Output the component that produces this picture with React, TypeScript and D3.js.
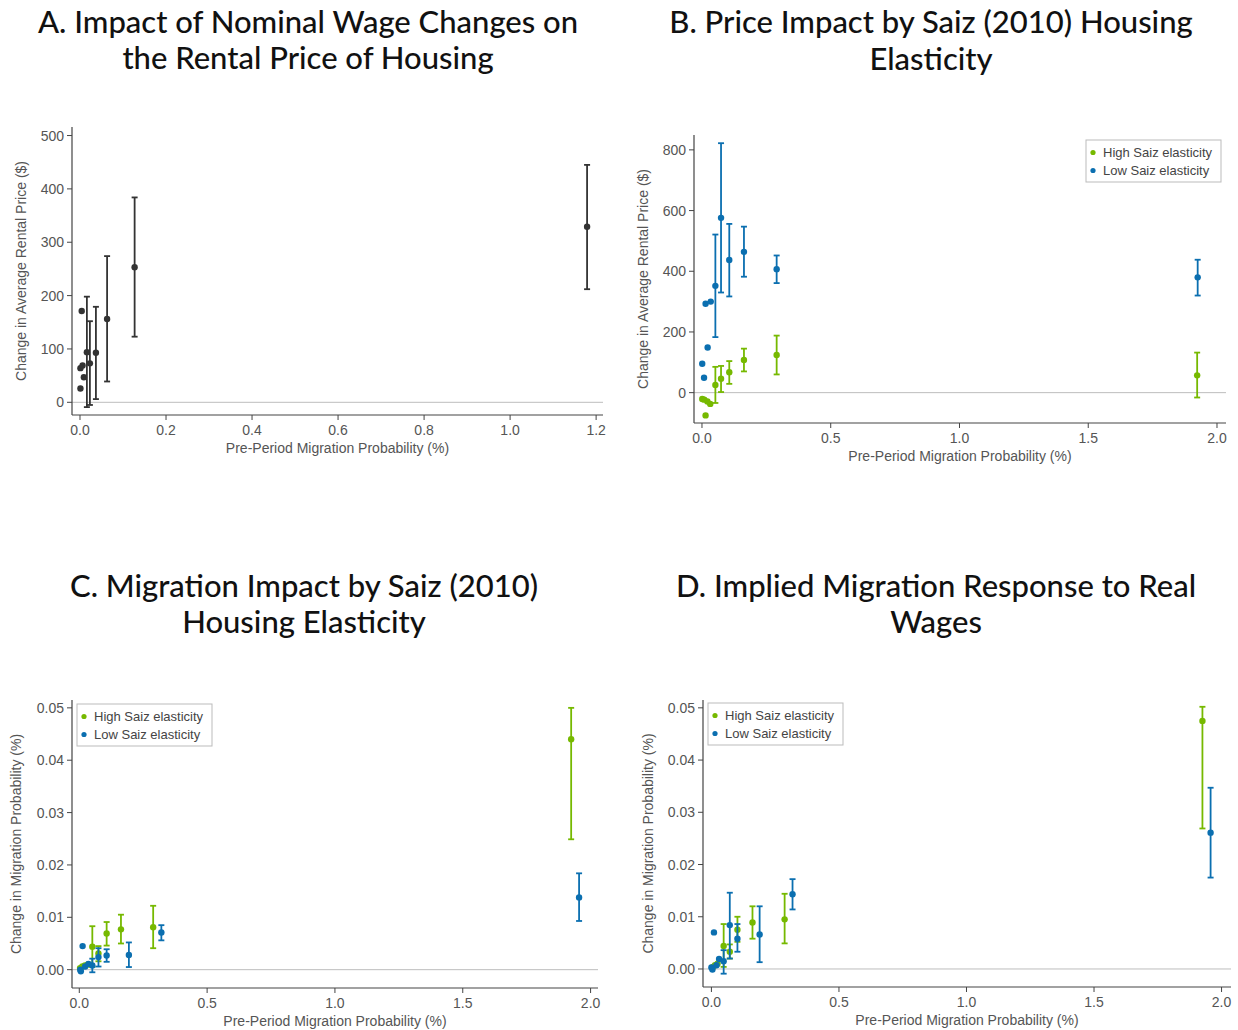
import React from 'react';
import * as d3 from 'd3';

// ---------- DATA ----------
// Panel A: single series
const aX = [0.001, 0.001, 0.006, 0.004, 0.009, 0.016, 0.023, 0.037, 0.063, 0.127, 1.179];
const aY = [26, 64, 69, 171, 47, 94, 73, 93, 156, 253, 329];
const aLo = [null, null, null, null, null, -9, -5, 6, 39, 123, 212];
const aHi = [null, null, null, null, null, 198, 152, 179, 274, 384, 445];

// Panel B
const bBlueX = [0.001, 0.008, 0.014, 0.022, 0.034, 0.052, 0.074, 0.106, 0.163, 0.29, 1.925];
const bBlueY = [95, 49, 293, 149, 300, 352, 576, 437, 464, 407, 380];
const bBlueLo = [null, null, null, null, null, 183, 330, 317, 382, 361, 320];
const bBlueHi = [null, null, null, null, null, 521, 822, 556, 547, 452, 438];
const bGreenX = [0.001, 0.009, 0.014, 0.021, 0.032, 0.052, 0.074, 0.106, 0.163, 0.29, 1.923];
const bGreenY = [-21, -23, -75, -29, -37, 25, 46, 67, 108, 124, 57];
const bGreenLo = [null, null, null, null, null, -34, 2, 29, 70, 60, -16];
const bGreenHi = [null, null, null, null, null, 85, 88, 104, 145, 188, 132];

// Panel C
const cBlueX = [0.004, 0.006, 0.013, 0.023, 0.036, 0.051, 0.075, 0.107, 0.194, 0.321, 1.955];
const cBlueY = [0.0, -0.0003, 0.0045, 0.0006, 0.0011, 0.0008, 0.0024, 0.0027, 0.0028, 0.0071, 0.0138];
const cBlueLo = [null, null, null, null, null, -0.0005, 0.0006, 0.0015, 0.0005, 0.0056, 0.0093];
const cBlueHi = [null, null, null, null, null, 0.0021, 0.0041, 0.0039, 0.0052, 0.0085, 0.0184];
const cGreenX = [0.003, 0.012, 0.022, 0.034, 0.051, 0.075, 0.107, 0.163, 0.289, 1.924];
const cGreenY = [0.0003, 0.0006, 0.0008, 0.001, 0.0044, 0.0031, 0.0069, 0.0077, 0.0081, 0.044];
const cGreenLo = [null, null, null, null, 0.0005, 0.0016, 0.0046, 0.005, 0.0041, 0.0249];
const cGreenHi = [null, null, null, null, 0.0083, 0.0045, 0.0091, 0.0105, 0.0122, 0.05];

// Panel D
const dBlueX = [0.0, 0.004, 0.01, 0.02, 0.03, 0.048, 0.072, 0.102, 0.189, 0.318, 1.957];
const dBlueY = [0.0003, -0.0001, 0.007, 0.0007, 0.0019, 0.0015, 0.0084, 0.0058, 0.0066, 0.0143, 0.0261];
const dBlueLo = [null, null, null, null, null, -0.0009, 0.002, 0.0033, 0.0013, 0.0114, 0.0175];
const dBlueHi = [null, null, null, null, null, 0.0036, 0.0146, 0.0086, 0.012, 0.0172, 0.0347];
const dGreenX = [0.006, 0.014, 0.024, 0.048, 0.072, 0.102, 0.161, 0.287, 1.925];
const dGreenY = [0.0004, 0.0007, 0.001, 0.0044, 0.0033, 0.0075, 0.0089, 0.0095, 0.0475];
const dGreenLo = [null, null, null, 0.0004, 0.002, 0.0052, 0.0058, 0.0049, 0.0269];
const dGreenHi = [null, null, null, 0.0086, 0.0047, 0.01, 0.012, 0.0144, 0.0502];

const titles = [
  ['A. Impact of Nominal Wage Changes on', 'the Rental Price of Housing'],
  ['B. Price Impact by Saiz (2010) Housing', 'Elasticity'],
  ['C. Migration Impact by Saiz (2010)', 'Housing Elasticity'],
  ['D. Implied Migration Response to Real', 'Wages'],
];
const xTitle = 'Pre-Period Migration Probability (%)';
const yTitles = [
  'Change in Average Rental Price ($)',
  'Change in Average Rental Price ($)',
  'Change in Migration Probability (%)',
  'Change in Migration Probability (%)',
];
const legendLabels = ['High Saiz elasticity', 'Low Saiz elasticity'];

const xTicksA = [0, 0.2, 0.4, 0.6, 0.8, 1.0, 1.2];
const xTicksBCD = [0, 0.5, 1.0, 1.5, 2.0];
const yTicksA = [0, 100, 200, 300, 400, 500];
const yTicksB = [0, 200, 400, 600, 800];
const yTicksCD = [0, 0.01, 0.02, 0.03, 0.04, 0.05];

// ---------- STYLE / LAYOUT ----------
const DARK = '#333333';
const GREEN = '#76b900';
const BLUE = '#0b6fb0';
const AXIS = '#444444';
const TICKTXT = '#555555';
const ZERO = '#bdbdbd';
const TITLE_FONT = 'Lato, "Open Sans", sans-serif';
const AX_FONT = '"Liberation Sans", Arial, sans-serif';

type Series = { x: number[]; y: number[]; lo: (number | null)[]; hi: (number | null)[]; color: string };

const panels = [
  {
    titleX: 308, titleY: [33, 69],
    left: 72, right: 603, top: 127, bottom: 415,
    xDomain: [-0.0186, 1.216], yDomain: [-23.8, 516],
    xTicks: xTicksA, yTicks: yTicksA, xFmt: d3.format('.1f'), yFmt: d3.format('d'),
    series: [{ x: aX, y: aY, lo: aLo, hi: aHi, color: DARK }] as Series[],
    legend: null as null | { x: number; y: number },
    yTitleX: 26,
  },
  {
    titleX: 931, titleY: [33, 70],
    left: 694, right: 1226, top: 135, bottom: 423,
    xDomain: [-0.031, 2.035], yDomain: [-100, 849],
    xTicks: xTicksBCD, yTicks: yTicksB, xFmt: d3.format('.1f'), yFmt: d3.format('d'),
    series: [
      { x: bBlueX, y: bBlueY, lo: bBlueLo, hi: bBlueHi, color: BLUE },
      { x: bGreenX, y: bGreenY, lo: bGreenLo, hi: bGreenHi, color: GREEN },
    ] as Series[],
    legend: { x: 1086, y: 140 },
    yTitleX: 648,
  },
  {
    titleX: 304, titleY: [597, 633],
    left: 72, right: 598, top: 700, bottom: 988,
    xDomain: [-0.0285, 2.029], yDomain: [-0.0035, 0.0515],
    xTicks: xTicksBCD, yTicks: yTicksCD, xFmt: d3.format('.1f'), yFmt: d3.format('.2f'),
    series: [
      { x: cGreenX, y: cGreenY, lo: cGreenLo, hi: cGreenHi, color: GREEN },
      { x: cBlueX, y: cBlueY, lo: cBlueLo, hi: cBlueHi, color: BLUE },
    ] as Series[],
    legend: { x: 77, y: 704 },
    yTitleX: 21,
  },
  {
    titleX: 936, titleY: [597, 633],
    left: 703, right: 1231, top: 700, bottom: 987,
    xDomain: [-0.033, 2.037], yDomain: [-0.00345, 0.0515],
    xTicks: xTicksBCD, yTicks: yTicksCD, xFmt: d3.format('.1f'), yFmt: d3.format('.2f'),
    series: [
      { x: dGreenX, y: dGreenY, lo: dGreenLo, hi: dGreenHi, color: GREEN },
      { x: dBlueX, y: dBlueY, lo: dBlueLo, hi: dBlueHi, color: BLUE },
    ] as Series[],
    legend: { x: 708, y: 703 },
    yTitleX: 653,
  },
];

function Panel({ p, idx }: { p: (typeof panels)[number]; idx: number }) {
  const xs = d3.scaleLinear().domain(p.xDomain).range([p.left, p.right]);
  const ys = d3.scaleLinear().domain(p.yDomain).range([p.bottom, p.top]);
  const cap = 3;
  return (
    <g>
      {titles[idx].map((t, i) => (
        <text key={i} x={p.titleX} y={p.titleY[i]} textAnchor="middle" fontFamily={TITLE_FONT}
          fontSize={31} fontWeight={500} fill="#111">{t}</text>
      ))}
      {/* zero line */}
      <line x1={p.left} x2={p.right} y1={ys(0)} y2={ys(0)} stroke={ZERO} strokeWidth={1} />
      {/* axes */}
      <line x1={p.left} x2={p.left} y1={p.top} y2={p.bottom} stroke={AXIS} strokeWidth={1.2} />
      <line x1={p.left} x2={p.right} y1={p.bottom} y2={p.bottom} stroke={AXIS} strokeWidth={1.2} />
      {p.yTicks.map((t) => (
        <g key={'y' + t}>
          <line x1={p.left - 5} x2={p.left} y1={ys(t)} y2={ys(t)} stroke={AXIS} strokeWidth={1} />
          <text x={p.left - 8} y={ys(t) + 5} textAnchor="end" fontFamily={AX_FONT} fontSize={14} fill={TICKTXT}>{p.yFmt(t)}</text>
        </g>
      ))}
      {p.xTicks.map((t) => (
        <g key={'x' + t}>
          <line x1={xs(t)} x2={xs(t)} y1={p.bottom} y2={p.bottom + 5} stroke={AXIS} strokeWidth={1} />
          <text x={xs(t)} y={p.bottom + 20} textAnchor="middle" fontFamily={AX_FONT} fontSize={14} fill={TICKTXT}>{p.xFmt(t)}</text>
        </g>
      ))}
      <text x={(p.left + p.right) / 2} y={p.bottom + 38} textAnchor="middle" fontFamily={AX_FONT} fontSize={14} fill={TICKTXT}>{xTitle}</text>
      <text transform={`translate(${p.yTitleX},${(p.top + p.bottom) / 2}) rotate(-90)`} textAnchor="middle"
        fontFamily={AX_FONT} fontSize={14} fill={TICKTXT}>{yTitles[idx]}</text>
      {/* series */}
      {p.series.map((s, si) => (
        <g key={si}>
          {s.x.map((xv, i) => {
            const lo = s.lo[i];
            const hi = s.hi[i];
            const cx = xs(xv);
            return (
              <g key={i}>
                {lo !== null && hi !== null && (
                  <g stroke={s.color} strokeWidth={1.8}>
                    <line x1={cx} x2={cx} y1={ys(lo)} y2={ys(hi)} />
                    <line x1={cx - cap} x2={cx + cap} y1={ys(lo)} y2={ys(lo)} />
                    <line x1={cx - cap} x2={cx + cap} y1={ys(hi)} y2={ys(hi)} />
                  </g>
                )}
                <circle cx={cx} cy={ys(s.y[i])} r={3.2} fill={s.color} />
              </g>
            );
          })}
        </g>
      ))}
      {p.legend && (
        <g>
          <rect x={p.legend.x} y={p.legend.y} width={135} height={42} fill="#fff" stroke="#bbbbbb" strokeWidth={1} />
          {legendLabels.map((l, i) => (
            <g key={l}>
              <circle cx={p.legend!.x + 7} cy={p.legend!.y + 12.5 + i * 18} r={2.6} fill={i === 0 ? GREEN : BLUE} />
              <text x={p.legend!.x + 17} y={p.legend!.y + 17 + i * 18} fontFamily={AX_FONT} fontSize={13} fill="#444">{l}</text>
            </g>
          ))}
        </g>
      )}
    </g>
  );
}

export default function App() {
  return (
    <svg width={1238} height={1030} style={{ position: 'absolute', left: 0, top: 0, background: '#fff' }}>
      <rect width={1238} height={1030} fill="#fff" />
      {panels.map((p, i) => (
        <Panel key={i} p={p} idx={i} />
      ))}
    </svg>
  );
}
